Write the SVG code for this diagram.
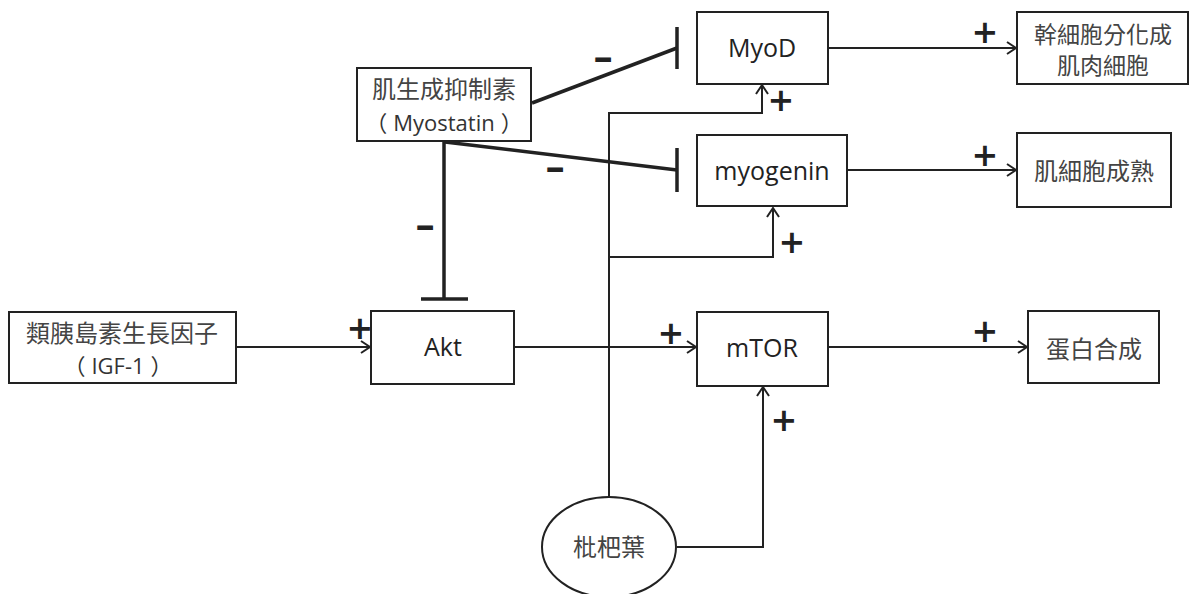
<svg xmlns="http://www.w3.org/2000/svg" width="1189" height="594" viewBox="0 0 1189 594">
<style>
.box{fill:#fff;stroke:#222;stroke-width:2}
.cjk{font-family:"Noto Sans CJK TC","Noto Sans CJK SC",sans-serif;font-size:24px;fill:#444;text-anchor:middle}
.lat{font-family:"Open Sans","Noto Sans CJK TC",sans-serif;font-size:25px;fill:#222;text-anchor:middle}
.par{font-family:"Open Sans","Noto Sans CJK TC",sans-serif;font-size:22px;fill:#333;text-anchor:middle}
.ln{fill:none;stroke:#222;stroke-width:2}
.inh{fill:none;stroke:#222;stroke-width:3.5}
.sg{font-family:"DejaVu Sans",sans-serif;font-weight:bold;font-size:32px;fill:#222;text-anchor:middle}
</style>
<defs>
<marker id="arr" markerUnits="userSpaceOnUse" markerWidth="12" markerHeight="14" refX="10" refY="7" orient="auto">
<path d="M1,1 L10,7 L1,13" fill="none" stroke="#222" stroke-width="2"/>
</marker>
</defs>
<rect width="1189" height="594" fill="#fff"/>
<g id="connectors">
<line class="ln" x1="236" y1="347" x2="370" y2="347" marker-end="url(#arr)"/>
<line class="ln" x1="514" y1="347" x2="696" y2="347" marker-end="url(#arr)"/>
<line class="ln" x1="828" y1="347" x2="1027" y2="347" marker-end="url(#arr)"/>
<line class="ln" x1="828" y1="48" x2="1016" y2="48" marker-end="url(#arr)"/>
<line class="ln" x1="847" y1="170" x2="1016" y2="170" marker-end="url(#arr)"/>
<polyline class="ln" points="609,497 609,113 762,113 762,85" marker-end="url(#arr)"/>
<polyline class="ln" points="609,257 773,257 773,208" marker-end="url(#arr)"/>
<polyline class="ln" points="677,547 763,547 763,387" marker-end="url(#arr)"/>
<line class="inh" x1="532" y1="103" x2="677" y2="48"/>
<line class="inh" x1="677" y1="27" x2="677" y2="69"/>
<line class="inh" x1="445" y1="142" x2="677" y2="170"/>
<line class="inh" x1="677" y1="148" x2="677" y2="192"/>
<line class="inh" x1="444" y1="142" x2="444" y2="299"/>
<line class="inh" x1="421" y1="299" x2="468" y2="299"/>
<text class="sg" x="985" y="43">+</text>
<text class="sg" x="985" y="166">+</text>
<text class="sg" x="985" y="342">+</text>
<text class="sg" x="671" y="344">+</text>
<text class="sg" x="360" y="339">+</text>
<text class="sg" x="781" y="111">+</text>
<text class="sg" x="792" y="253">+</text>
<text class="sg" x="784" y="431">+</text>
<text class="sg" transform="translate(603,69) scale(1.6,1)">-</text>
<text class="sg" transform="translate(555,179) scale(1.6,1)">-</text>
<text class="sg" transform="translate(425,237) scale(1.6,1)">-</text>
</g>
<g id="myostatin">
<rect class="box" x="357" y="68" width="174" height="73"/>
<text class="cjk" x="444" y="98">肌生成抑制素</text>
<text class="par" x="444" y="131">（<tspan dx="6">Myostatin</tspan><tspan dx="6">）</tspan></text>
</g>
<g id="igf1">
<rect class="box" x="9" y="312" width="227" height="71"/>
<text class="cjk" x="122" y="342">類胰島素生長因子</text>
<text class="par" x="118" y="374">（<tspan dx="6">IGF-1</tspan><tspan dx="6">）</tspan></text>
</g>
<g id="akt">
<rect class="box" x="371" y="311" width="143" height="73"/>
<text class="lat" x="443" y="356">Akt</text>
</g>
<g id="myod">
<rect class="box" x="697" y="12" width="131" height="72"/>
<text class="lat" x="762" y="57">MyoD</text>
</g>
<g id="myogenin">
<rect class="box" x="697" y="135" width="150" height="71"/>
<text class="lat" x="772" y="180">myogenin</text>
</g>
<g id="mtor">
<rect class="box" x="697" y="312" width="131" height="74"/>
<text class="lat" x="762" y="357">mTOR</text>
</g>
<g id="stemcell">
<rect class="box" x="1017" y="12" width="171" height="72"/>
<text class="cjk" x="1103" y="43" style="font-size:23px">幹細胞分化成</text>
<text class="cjk" x="1103" y="74" style="font-size:23px">肌肉細胞</text>
</g>
<g id="maturation">
<rect class="box" x="1017" y="133" width="154" height="74"/>
<text class="cjk" x="1094" y="180">肌細胞成熟</text>
</g>
<g id="protein">
<rect class="box" x="1028" y="311" width="131" height="72"/>
<text class="cjk" x="1094" y="358">蛋白合成</text>
</g>
<g id="loquat">
<ellipse class="box" cx="609" cy="547" rx="67" ry="50"/>
<text class="cjk" x="609" y="556">枇杷葉</text>
</g>
</svg>
